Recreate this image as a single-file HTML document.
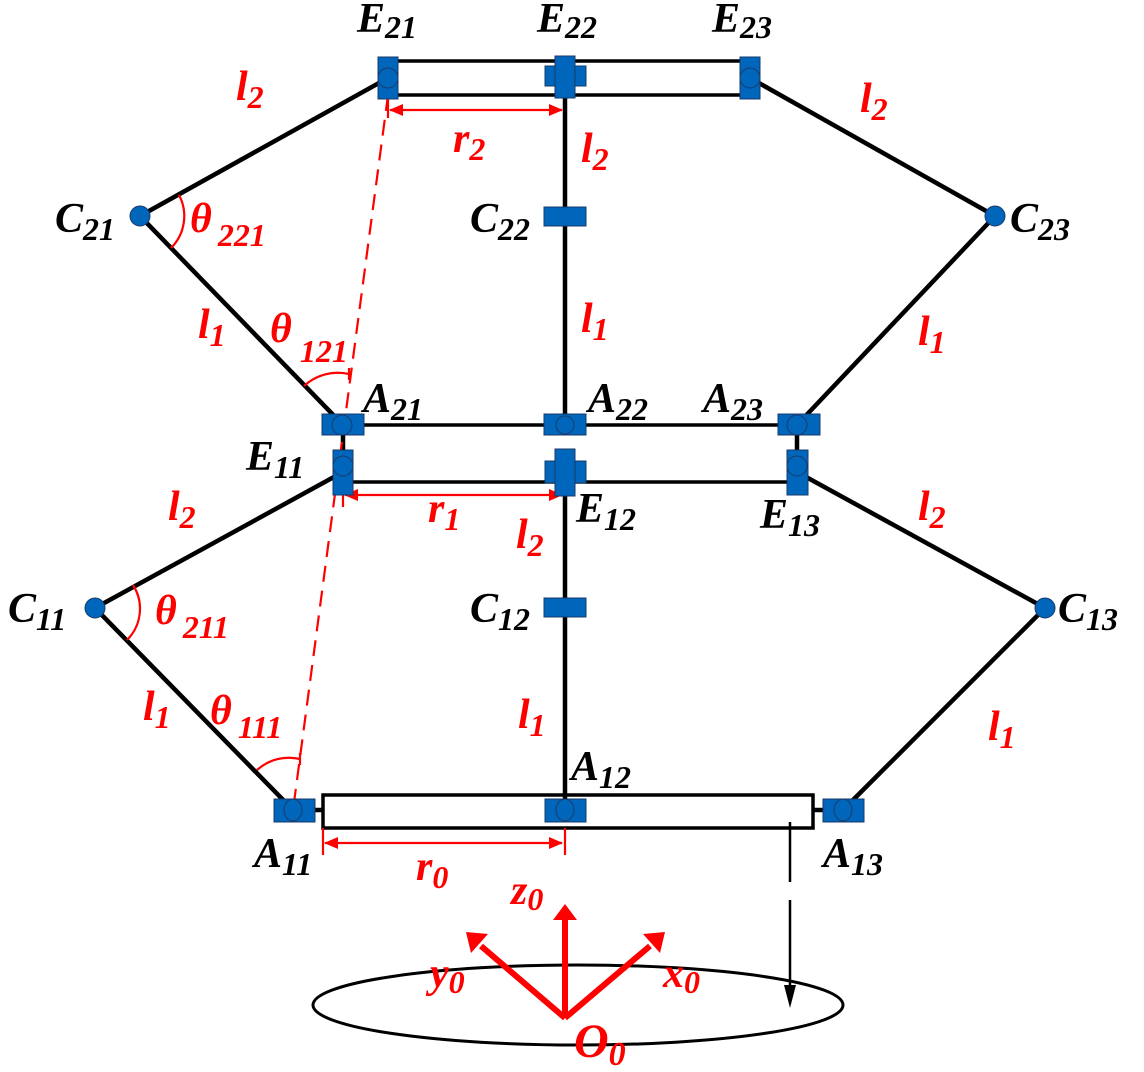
<!DOCTYPE html>
<html><head><meta charset="utf-8"><style>
html,body{margin:0;padding:0;background:#fff}
svg{display:block}
</style></head><body>
<svg width="1144" height="1072" viewBox="0 0 1144 1072" xmlns="http://www.w3.org/2000/svg">
<defs>
<marker id="ra" markerWidth="14" markerHeight="12" refX="13" refY="6" orient="auto" markerUnits="userSpaceOnUse"><path d="M0,0 L14,6 L0,12 Z" fill="#f00"/></marker>
<marker id="rs" markerWidth="14" markerHeight="12" refX="1" refY="6" orient="auto" markerUnits="userSpaceOnUse"><path d="M14,0 L0,6 L14,12 Z" fill="#f00"/></marker>
</defs>
<g stroke="#000" stroke-width="4.5" fill="none">
<line x1="388" y1="78" x2="140" y2="216"/>
<line x1="140" y1="216" x2="343" y2="425"/>
<line x1="750" y1="78" x2="995" y2="216"/>
<line x1="995" y1="216" x2="797" y2="425"/>
<line x1="343" y1="472" x2="95" y2="608"/>
<line x1="95" y1="608" x2="293" y2="810"/>
<line x1="797" y1="472" x2="1045" y2="608"/>
<line x1="1045" y1="608" x2="843" y2="810"/>
<line x1="565" y1="95" x2="565" y2="425"/>
<line x1="565" y1="482" x2="565" y2="810"/>
<line x1="343" y1="425" x2="343" y2="472"/>
<line x1="797" y1="425" x2="797" y2="472"/>
<line x1="313" y1="810" x2="323" y2="810"/>
<line x1="813" y1="810" x2="825" y2="810"/>
</g>
<g stroke="#000" stroke-width="3.5" fill="none">
<line x1="388" y1="61" x2="750" y2="61"/>
<line x1="388" y1="95" x2="750" y2="95"/>
<line x1="343" y1="425" x2="797" y2="425"/>
<line x1="343" y1="482" x2="797" y2="482"/>
<rect x="323" y="795" width="490" height="33"/>
<ellipse cx="578" cy="1005" rx="265" ry="40" stroke-width="3"/>
</g>
<line x1="790" y1="822" x2="790" y2="882" stroke="#000" stroke-width="2.5"/>
<line x1="790" y1="900" x2="790" y2="985" stroke="#000" stroke-width="2.5"/>
<path d="M784,985 L796,985 L790,1008 Z" fill="#000"/>
<line x1="388" y1="95" x2="293" y2="810" stroke="#f00" stroke-width="2.2" stroke-dasharray="16,9"/>
<g stroke="#f00" stroke-width="2.2" fill="none">
<line x1="388" y1="97" x2="388" y2="118"/>
<line x1="390" y1="110" x2="562" y2="110" marker-start="url(#rs)" marker-end="url(#ra)"/>
<line x1="343" y1="484" x2="343" y2="507"/>
<line x1="345" y1="495" x2="562" y2="495" marker-start="url(#rs)" marker-end="url(#ra)"/>
<line x1="323" y1="828" x2="323" y2="855"/>
<line x1="565" y1="828" x2="565" y2="855"/>
<line x1="325" y1="843" x2="562" y2="843" marker-start="url(#rs)" marker-end="url(#ra)"/>
<path d="M179,195 A45,45 0 0 1 171,248"/>
<path d="M133,585 A44,44 0 0 1 127,640"/>
<path d="M304,386 A50,50 0 0 1 349,374"/>
<path d="M257,770 A48,48 0 0 1 300,759"/>
<line x1="349" y1="368" x2="349" y2="380"/>
<line x1="300" y1="753" x2="300" y2="765"/>
</g>
<g stroke="#f00" stroke-width="6" fill="#f00">
<line x1="565" y1="1018" x2="565" y2="918"/>
<line x1="565" y1="1018" x2="650" y2="946"/>
<line x1="565" y1="1018" x2="481" y2="946"/>
<path d="M553,920 L577,920 L565,904 Z" stroke="none"/>
<path d="M643,934 L665,932 L660,953 Z" stroke="none"/>
<path d="M488,934 L466,932 L471,953 Z" stroke="none"/>
</g>
<g fill="#0066bb" stroke="#1a3a6a" stroke-width="1">
<rect x="378" y="57" width="20" height="42"/>
<rect x="545" y="66" width="41" height="20"/><rect x="555" y="56" width="20" height="42"/>
<rect x="740" y="57" width="20" height="42"/>
<rect x="544" y="207" width="42" height="19"/>
<rect x="322" y="414" width="42" height="21"/>
<rect x="544" y="414" width="42" height="21"/>
<rect x="778" y="414" width="42" height="21"/>
<rect x="333" y="450" width="20" height="45"/>
<rect x="545" y="461" width="41" height="22"/><rect x="555" y="449" width="20" height="47"/>
<rect x="787" y="450" width="21" height="45"/>
<rect x="544" y="598" width="42" height="19"/>
<rect x="274" y="799" width="41" height="23"/>
<rect x="545" y="799" width="41" height="23"/>
<rect x="823" y="799" width="41" height="23"/>
</g>
<g fill="#0066bb" stroke="#1a3a6a" stroke-width="1">
<circle cx="388" cy="78" r="10"/>
<circle cx="750" cy="78" r="10"/>
<circle cx="342" cy="425" r="10"/>
<circle cx="565" cy="425" r="9"/>
<circle cx="797" cy="425" r="10"/>
<circle cx="343" cy="466" r="10"/>
<circle cx="797" cy="466" r="10"/>
<ellipse cx="293" cy="810" rx="9" ry="11"/>
<ellipse cx="565" cy="810" rx="9" ry="11"/>
<ellipse cx="843" cy="810" rx="9" ry="11"/>
<circle cx="140" cy="216" r="10"/>
<circle cx="995" cy="216" r="10"/>
<circle cx="95" cy="608" r="10"/>
<circle cx="1045" cy="608" r="10"/>
</g>
<g font-family="'Liberation Serif', 'Times New Roman', serif" font-style="italic" font-weight="bold" font-size="42" fill="#000">
<text x="357" y="32">E<tspan font-size="32" dy="6">21</tspan></text>
<text x="537" y="32">E<tspan font-size="32" dy="6">22</tspan></text>
<text x="712" y="32">E<tspan font-size="32" dy="6">23</tspan></text>
<text x="55" y="232">C<tspan font-size="32" dy="8">21</tspan></text>
<text x="470" y="232">C<tspan font-size="32" dy="8">22</tspan></text>
<text x="1010" y="232">C<tspan font-size="32" dy="8">23</tspan></text>
<text x="363" y="412">A<tspan font-size="32" dy="8">21</tspan></text>
<text x="588" y="412">A<tspan font-size="32" dy="8">22</tspan></text>
<text x="703" y="412">A<tspan font-size="32" dy="8">23</tspan></text>
<text x="246" y="470">E<tspan font-size="32" dy="8">11</tspan></text>
<text x="576" y="522">E<tspan font-size="32" dy="8">12</tspan></text>
<text x="760" y="528">E<tspan font-size="32" dy="8">13</tspan></text>
<text x="8" y="622">C<tspan font-size="32" dy="8">11</tspan></text>
<text x="470" y="622">C<tspan font-size="32" dy="8">12</tspan></text>
<text x="1058" y="622">C<tspan font-size="32" dy="8">13</tspan></text>
<text x="571" y="780">A<tspan font-size="32" dy="8">12</tspan></text>
<text x="254" y="867">A<tspan font-size="32" dy="8">11</tspan></text>
<text x="823" y="867">A<tspan font-size="32" dy="8">13</tspan></text>
</g>
<g font-family="'Liberation Serif', 'Times New Roman', serif" font-style="italic" font-weight="bold" font-size="42" fill="#f00">
<text x="236" y="100">l<tspan font-size="32" dy="8">2</tspan></text>
<text x="860" y="112">l<tspan font-size="32" dy="8">2</tspan></text>
<text x="453" y="152">r<tspan font-size="32" dy="8">2</tspan></text>
<text x="581" y="162">l<tspan font-size="32" dy="8">2</tspan></text>
<text x="190" y="232">θ<tspan font-size="32" dx="6" dy="14">221</tspan></text>
<text x="581" y="332">l<tspan font-size="32" dy="8">1</tspan></text>
<text x="198" y="338">l<tspan font-size="32" dy="8">1</tspan></text>
<text x="270" y="342">θ</text>
<text x="300" y="362" font-size="32">121</text>
<text x="918" y="345">l<tspan font-size="32" dy="8">1</tspan></text>
<text x="168" y="520">l<tspan font-size="32" dy="8">2</tspan></text>
<text x="918" y="520">l<tspan font-size="32" dy="8">2</tspan></text>
<text x="428" y="522">r<tspan font-size="32" dy="8">1</tspan></text>
<text x="516" y="548">l<tspan font-size="32" dy="8">2</tspan></text>
<text x="155" y="624">θ<tspan font-size="32" dx="6" dy="14">211</tspan></text>
<text x="143" y="720">l<tspan font-size="32" dy="8">1</tspan></text>
<text x="210" y="724">θ<tspan font-size="32" dx="6" dy="14">111</tspan></text>
<text x="518" y="728">l<tspan font-size="32" dy="8">1</tspan></text>
<text x="988" y="740">l<tspan font-size="32" dy="8">1</tspan></text>
<text x="416" y="880">r<tspan font-size="32" dy="8">0</tspan></text>
<text x="511" y="904">z<tspan font-size="32" dy="6">0</tspan></text>
<text x="430" y="987">y<tspan font-size="32" dy="6">0</tspan></text>
<text x="663" y="987">x<tspan font-size="32" dy="6">0</tspan></text>
<text x="574" y="1057" font-size="48">O<tspan font-size="34" dy="8">0</tspan></text>
</g>
</svg>
</body></html>
